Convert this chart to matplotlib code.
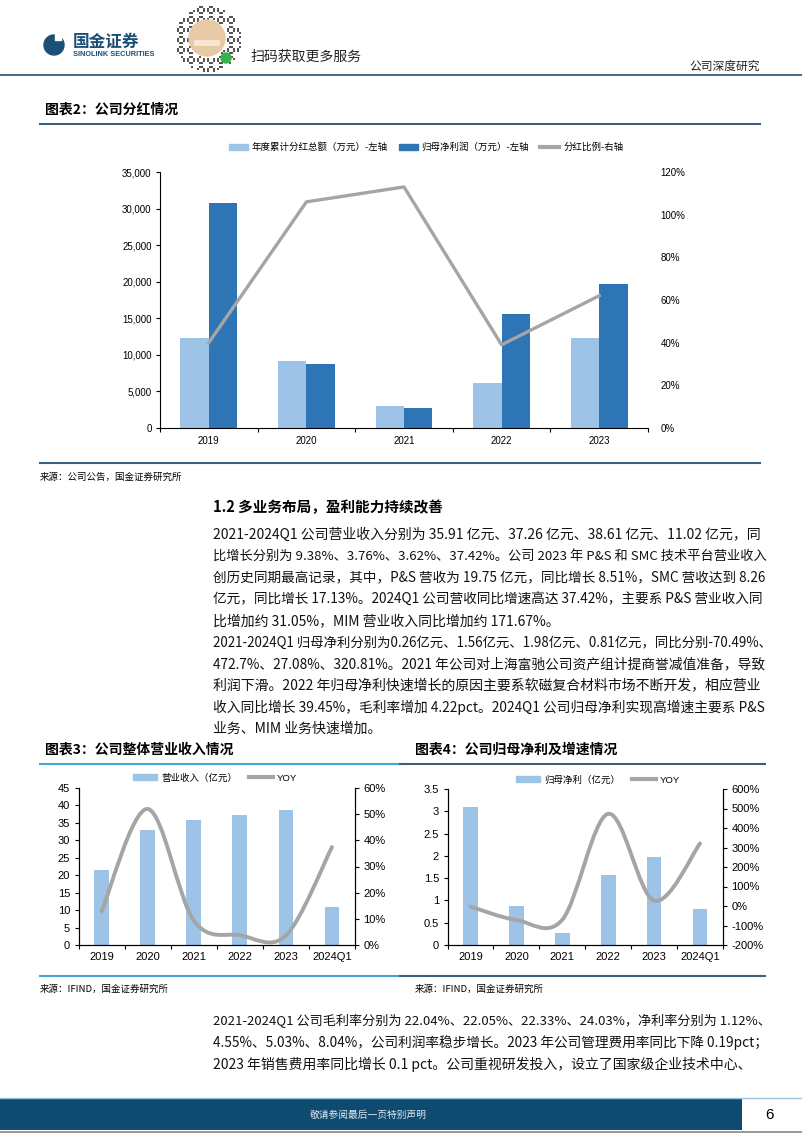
import numpy as np
import matplotlib
matplotlib.use('Agg')
import matplotlib.pyplot as plt
from matplotlib.path import Path
from matplotlib.patches import PathPatch, Rectangle, Circle
from matplotlib.lines import Line2D
from matplotlib.ticker import FuncFormatter, MultipleLocator

plt.rcParams['font.family'] = ['Liberation Sans', 'Noto Sans CJK SC']
plt.rcParams['axes.unicode_minus'] = False

W, H = 802, 1133

# chart 2: dividends
years2 = ['2019', '2020', '2021', '2022', '2023']
dividend = [12350, 9200, 3030, 6150, 12350]        # 万元
net_profit_wan = [30750, 8700, 2690, 15630, 19750]  # 万元
payout = [40, 106, 113, 39, 62]                     # %

# chart 3 / 4
years3 = ['2019', '2020', '2021', '2022', '2023', '2024Q1']
revenue = [21.6, 32.9, 35.91, 37.26, 38.61, 11.02]      # 亿元
revenue_yoy = [12.8, 52.0, 9.38, 3.76, 3.62, 37.42]     # %
net_profit = [3.09, 0.87, 0.26, 1.56, 1.98, 0.81]       # 亿元
net_profit_yoy = [-3.0, -71.8, -70.49, 472.7, 27.08, 320.81]  # %

para1 = [
    "2021-2024Q1 公司营业收入分别为 35.91 亿元、37.26 亿元、38.61 亿元、11.02 亿元，同",
    "比增长分别为 9.38%、3.76%、3.62%、37.42%。公司 2023 年 P&S 和 SMC 技术平台营业收入",
    "创历史同期最高记录，其中，P&S 营收为 19.75 亿元，同比增长 8.51%，SMC 营收达到 8.26",
    "亿元，同比增长 17.13%。2024Q1 公司营收同比增速高达 37.42%，主要系 P&S 营业收入同",
    "比增加约 31.05%，MIM 营业收入同比增加约 171.67%。",
    "2021-2024Q1 归母净利分别为0.26亿元、1.56亿元、1.98亿元、0.81亿元，同比分别-70.49%、",
    "472.7%、27.08%、320.81%。2021 年公司对上海富驰公司资产组计提商誉减值准备，导致",
    "利润下滑。2022 年归母净利快速增长的原因主要系软磁复合材料市场不断开发，相应营业",
    "收入同比增长 39.45%，毛利率增加 4.22pct。2024Q1 公司归母净利实现高增速主要系 P&S",
    "业务、MIM 业务快速增加。",
]
para1_last = [4, 9]
para2 = [
    "2021-2024Q1 公司毛利率分别为 22.04%、22.05%、22.33%、24.03%，净利率分别为 1.12%、",
    "4.55%、5.03%、8.04%，公司利润率稳步增长。2023 年公司管理费用率同比下降 0.19pct；",
    "2023 年销售费用率同比增长 0.1 pct。公司重视研发投入，设立了国家级企业技术中心、",
]

LIGHT = '#9dc3e6'
DARK = '#2e75b6'
GRAY = '#a5a5a5'
NAVY = '#1b4f76'
LINE_DARK = '#3e5f7c'
LINE_LIGHT = '#42a5dc'
CJK = ['Noto Sans CJK SC', 'DejaVu Sans']


def px_rect(l, t, r, b):
    return [l / W, 1 - b / H, (r - l) / W, (b - t) / H]


def smooth_path(xs, ys):
    # excel-style smoothed line (catmull-rom as cubic bezier)
    p = np.column_stack([xs, ys]).astype(float)
    n = len(p)
    verts, codes = [p[0]], [Path.MOVETO]
    for i in range(n - 1):
        p0, p1, p2, p3 = p[max(i - 1, 0)], p[i], p[i + 1], p[min(i + 2, n - 1)]
        verts += [p1 + (p2 - p0) / 6, p2 - (p3 - p1) / 6, p2]
        codes += [Path.CURVE4] * 3
    return Path(verts, codes)


fig = plt.figure(figsize=(W / 100, H / 100), dpi=100)

# page layer in pixel coordinates
pg = fig.add_axes([0, 0, 1, 1])
pg.set_xlim(0, W)
pg.set_ylim(H, 0)
pg.axis('off')

# header
pg.add_patch(Circle((54, 45), 10, color=NAVY))
pg.add_patch(Rectangle((55, 33), 6, 7, color='white'))
pg.text(73, 42, '国金证券', fontsize=12, fontweight='bold', color=NAVY, va='center', family=CJK)
pg.text(73, 54, 'SINOLINK SECURITIES', fontsize=5.3, fontweight='bold', color=NAVY, va='center')
# qr badge
for i in range(-16, 17):
    for j in range(-16, 17):
        r = np.hypot(i, j)
        if 9.5 < r < 16.5 and (i * 7 + j * 11 + i * j) % 5 < 2:
            pg.add_patch(Rectangle((207 + i * 2, 38 + j * 2), 1.8, 1.8, color='#555555', lw=0))
pg.add_patch(Circle((207, 38), 18, color='#e7c9a4'))
pg.add_patch(Rectangle((194, 40), 26, 6, color='#f6e7d2', lw=0))
pg.add_patch(Circle((226, 58), 5, color='#36b34a'))
pg.text(250, 57, '扫码获取更多服务', fontsize=10, va='center', family=CJK, color='#222222')
pg.text(760, 66, '公司深度研究', fontsize=8.5, va='center', ha='right', family=CJK, color='#222222')
pg.plot([0, W], [75, 75], color='#2e4f6e', lw=1.2)

# chart 2 title + rules
pg.text(45, 110, '图表2：公司分红情况', fontsize=10, fontweight='bold', va='center', family=CJK)
pg.plot([40, 760], [124, 124], color=LINE_DARK, lw=1.5)
pg.plot([40, 760], [463, 463], color=LINE_DARK, lw=1.5)
pg.text(40, 477, '来源：公司公告，国金证券研究所', fontsize=6.8, va='center', family=CJK)

# body text, full lines fitted to the column width
pg.text(213, 507, '1.2 多业务布局，盈利能力持续改善', fontsize=10.5, fontweight='bold',
        va='center', family=CJK)
body = []
for k, line in enumerate(para1):
    t = pg.text(213, 535 + k * 21.5, line, fontsize=10, va='center', family=CJK, color='#111111')
    right = None if k in para1_last else (772 if line.endswith('、') else 764)
    body.append((t, right))
for k, line in enumerate(para2):
    t = pg.text(213, 1021 + k * 21.5, line, fontsize=10, va='center', family=CJK, color='#111111')
    body.append((t, 770))

# chart 3 / 4 titles + rules
pg.text(45, 750, '图表3：公司整体营业收入情况', fontsize=10, fontweight='bold', va='center', family=CJK)
pg.text(415, 750, '图表4：公司归母净利及增速情况', fontsize=10, fontweight='bold', va='center', family=CJK)
pg.plot([40, 400], [764, 764], color=LINE_LIGHT, lw=1.5)
pg.plot([400, 765], [764, 764], color=LINE_DARK, lw=1.5)
pg.plot([40, 400], [976, 976], color=LINE_LIGHT, lw=1.5)
pg.plot([400, 765], [976, 976], color=LINE_DARK, lw=1.5)
pg.text(40, 989, '来源：IFIND，国金证券研究所', fontsize=6.8, va='center', family=CJK)
pg.text(415, 989, '来源：IFIND，国金证券研究所', fontsize=6.8, va='center', family=CJK)

# footer
pg.plot([0, W], [1098, 1098], color='#9cc6de', lw=1)
pg.add_patch(Rectangle((0, 1099), 742, 31, color='#0f4b70', lw=0))
pg.text(368, 1115, '敬请参阅最后一页特别声明', fontsize=7, color='#dfe8ef', ha='center', va='center', family=CJK)
pg.text(770, 1115, '6', fontsize=11, ha='center', va='center')
pg.plot([0, W], [1132, 1132], color='#888888', lw=1.2)

# ---------- chart 2 ----------
ax = fig.add_axes(px_rect(160, 172, 648, 428))
x = np.arange(len(years2))
bw = 0.29
ax.bar(x - bw / 2, dividend, bw, color=LIGHT, zorder=2)
ax.bar(x + bw / 2, net_profit_wan, bw, color=DARK, zorder=2)
ax.set_xlim(-0.5, len(years2) - 0.5)
ax.set_ylim(0, 35000)
ax.yaxis.set_major_locator(MultipleLocator(5000))
ax.yaxis.set_major_formatter(FuncFormatter(lambda v, p: f'{v:,.0f}'))
ax.set_xticks(x)
ax.set_xticklabels(years2)
ax.set_xticks(np.arange(-0.5, len(years2)), minor=True)
ax.tick_params(axis='x', which='major', length=0, pad=6, labelsize=7)
ax.tick_params(axis='x', which='minor', length=3, width=0.8)
ax.tick_params(axis='y', length=3, width=0.8, labelsize=7, pad=3)
for s in ['top', 'right']:
    ax.spines[s].set_visible(False)
tw = ax.twinx()
tw.plot(x, payout, color=GRAY, lw=2.4, zorder=3)
tw.set_ylim(0, 120)
tw.yaxis.set_major_locator(MultipleLocator(20))
tw.yaxis.set_major_formatter(FuncFormatter(lambda v, p: f'{v:.0f}%'))
tw.tick_params(axis='y', length=0, labelsize=7, pad=9)
for s in tw.spines.values():
    s.set_visible(False)
fig.legend([Rectangle((0, 0), 1, 1, color=LIGHT), Rectangle((0, 0), 1, 1, color=DARK),
            Line2D([], [], color=GRAY, lw=3)],
           ['年度累计分红总额（万元）-左轴', '归母净利润（万元）-左轴', '分红比例-右轴'],
           loc='center', bbox_to_anchor=(426 / W, 1 - 147 / H), ncol=3, frameon=False,
           fontsize=6.8, handlelength=2.0, handleheight=0.6, handletextpad=0.4,
           columnspacing=1.2)


def combo(rect, bars, yoy, ymax, ystep, ylo, yhi, ystep2, label, lx, ly):
    a = fig.add_axes(px_rect(*rect))
    xx = np.arange(len(years3))
    a.bar(xx, bars, 0.32, color=LIGHT, zorder=2)
    a.set_xlim(-0.5, len(years3) - 0.5)
    a.set_ylim(0, ymax)
    a.yaxis.set_major_locator(MultipleLocator(ystep))
    a.yaxis.set_major_formatter(FuncFormatter(lambda v, p: f'{v:g}'))
    a.set_xticks(xx)
    a.set_xticklabels(years3)
    a.set_xticks(np.arange(-0.5, len(years3)), minor=True)
    a.tick_params(axis='x', which='major', length=0, pad=5, labelsize=8)
    a.tick_params(axis='x', which='minor', length=3, width=0.8)
    a.tick_params(axis='y', length=3, width=0.8, labelsize=8, pad=3)
    a.spines['top'].set_visible(False)
    t = a.twinx()
    t.add_patch(PathPatch(smooth_path(xx, yoy), fill=False, ec=GRAY, lw=2.8,
                          capstyle='round', zorder=3))
    t.set_ylim(ylo, yhi)
    t.yaxis.set_major_locator(MultipleLocator(ystep2))
    t.yaxis.set_major_formatter(FuncFormatter(lambda v, p: f'{v:.0f}%'))
    t.tick_params(axis='y', length=3, width=0.8, labelsize=8, pad=3)
    t.spines['top'].set_visible(False)
    fig.legend([Rectangle((0, 0), 1, 1, color=LIGHT), Line2D([], [], color=GRAY, lw=3)],
               [label, 'YOY'], loc='center', bbox_to_anchor=(lx / W, 1 - ly / H), ncol=2,
               frameon=False, fontsize=6.8, handlelength=2.6, handleheight=0.6,
               handletextpad=0.4, columnspacing=1.2)
    return a, t


combo((78.5, 788, 355, 945), revenue, revenue_yoy, 45, 5, 0, 60, 10,
      '营业收入（亿元）', 215, 778)
combo((447.5, 789, 723, 945), net_profit, net_profit_yoy, 3.5, 0.5, -200, 600, 100,
      '归母净利（亿元）', 598, 780)

# shrink over-long body lines so they end at the column edge
fig.canvas.draw()
rend = fig.canvas.get_renderer()
for t, right in body:
    if right is None:
        continue
    w = t.get_window_extent(renderer=rend).width
    if w > right - 213:
        t.set_fontsize(10 * (right - 213) / w)

fig.savefig('out.png', dpi=100)
